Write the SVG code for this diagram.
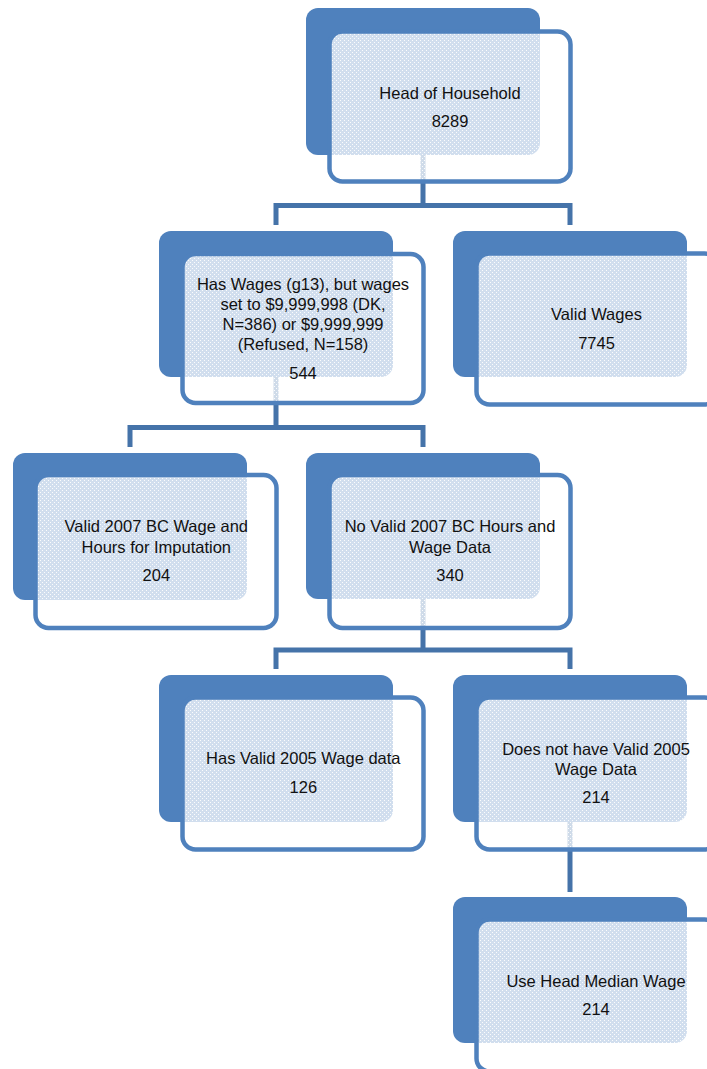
<svg xmlns="http://www.w3.org/2000/svg" width="707" height="1069" viewBox="0 0 707 1069">
<defs>
<pattern id="dots" width="4" height="4" patternUnits="userSpaceOnUse">
<rect width="4" height="4" fill="#fff" fill-opacity="0.74"/>
<rect x="0" y="0" width="1" height="1" fill="#fff" fill-opacity="0.9"/>
<rect x="2" y="2" width="1" height="1" fill="#fff" fill-opacity="0.9"/>
</pattern>
</defs>
<style>
.back{fill:#4f81bd}
.front{fill:url(#dots);stroke:#4f81bd;stroke-width:4.5}
.conn{fill:none;stroke:#4573a9;stroke-width:5;stroke-linecap:butt;stroke-linejoin:miter}
text{font-family:"Liberation Sans",Arial,sans-serif;font-size:16.5px;fill:#111;text-anchor:middle}
</style>
<rect width="707" height="1069" fill="#fff"/>
<g id="connectors">
<path class="conn" d="M423,155V205.5M276,225V205.5H570V225"/>
<path class="conn" d="M276,377V427.5M130,447V427.5H423V447"/>
<path class="conn" d="M423,599V650M276,669V650H570V669"/>
<path class="conn" d="M570,821V892"/>
</g>
<g id="node-head">
<rect class="back" x="306" y="8" width="234" height="147" rx="12"/>
<rect class="front" x="329.5" y="31.5" width="241" height="150" rx="13"/>
<text x="450" y="98.5">Head of Household</text>
<text x="450" y="127">8289</text>
</g>
<g id="node-has-wages">
<rect class="back" x="159" y="231" width="234" height="146" rx="12"/>
<rect class="front" x="182.5" y="254" width="241" height="149" rx="13"/>
<text x="303" y="290">Has Wages (g13), but wages</text>
<text x="303" y="310">set to $9,999,998 (DK,</text>
<text x="303" y="330">N=386) or $9,999,999</text>
<text x="303" y="350">(Refused, N=158)</text>
<text x="303" y="379">544</text>
</g>
<g id="node-valid-wages">
<rect class="back" x="453" y="231" width="234" height="146" rx="12"/>
<rect class="front" x="476.5" y="253.5" width="241" height="151" rx="13"/>
<text x="596.5" y="320">Valid Wages</text>
<text x="596.5" y="348.5">7745</text>
</g>
<g id="node-valid-2007">
<rect class="back" x="13" y="453" width="234" height="147" rx="12"/>
<rect class="front" x="35.5" y="475" width="241" height="153" rx="13"/>
<text x="156.3" y="531.7">Valid 2007 BC Wage and</text>
<text x="156.3" y="552.7">Hours for Imputation</text>
<text x="156.3" y="581">204</text>
</g>
<g id="node-no-valid-2007">
<rect class="back" x="306" y="453" width="234" height="146" rx="12"/>
<rect class="front" x="329.5" y="475" width="241" height="153" rx="13"/>
<text x="450" y="531.7">No Valid 2007 BC Hours and</text>
<text x="450" y="552.7">Wage Data</text>
<text x="450" y="580.5">340</text>
</g>
<g id="node-valid-2005">
<rect class="back" x="159" y="675" width="234" height="147" rx="12"/>
<rect class="front" x="182.5" y="697.5" width="241" height="152" rx="13"/>
<text x="303.3" y="764">Has Valid 2005 Wage data</text>
<text x="303.3" y="792.7">126</text>
</g>
<g id="node-no-valid-2005">
<rect class="back" x="453" y="675" width="234" height="147" rx="12"/>
<rect class="front" x="476.5" y="697.5" width="241" height="152" rx="13"/>
<text x="596" y="755">Does not have Valid 2005</text>
<text x="596" y="775">Wage Data</text>
<text x="596" y="803.3">214</text>
</g>
<g id="node-median">
<rect class="back" x="453" y="897" width="234" height="146" rx="12"/>
<rect class="front" x="476.5" y="919.5" width="241" height="152" rx="13"/>
<text x="596" y="986.7">Use Head Median Wage</text>
<text x="596" y="1015">214</text>
</g>
</svg>
